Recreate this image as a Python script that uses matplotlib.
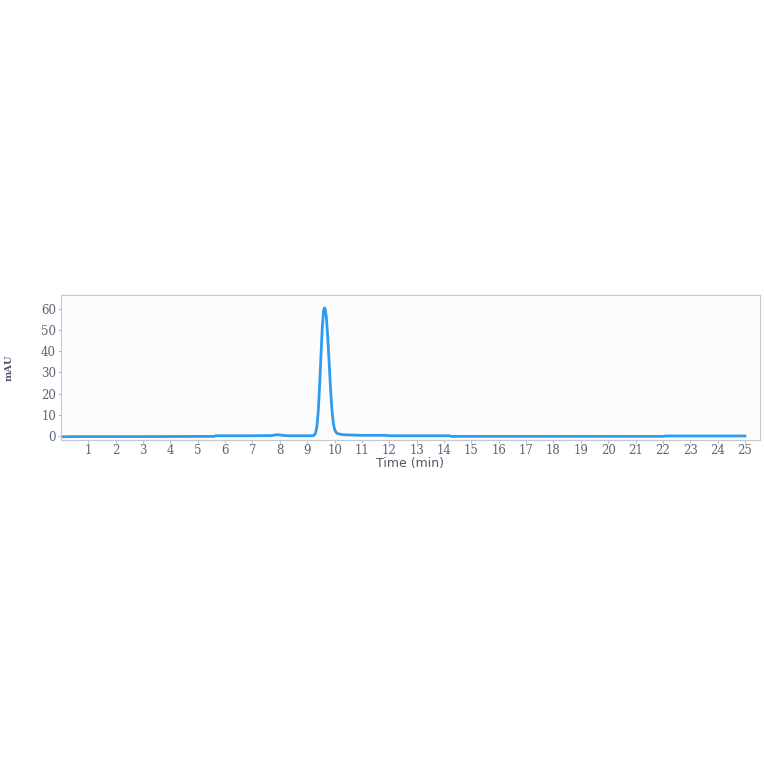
import matplotlib
matplotlib.use("Agg")
import matplotlib.pyplot as plt

time_min = [0.0, 0.5, 1.0, 3.0, 5.6, 5.65, 7.0, 7.7, 7.8, 7.9, 8.0, 8.1, 8.3, 9.0, 9.2,
            9.25, 9.30, 9.35, 9.40, 9.45, 9.50, 9.55, 9.60, 9.63, 9.66, 9.70, 9.75,
            9.80, 9.85, 9.90, 9.95, 10.0, 10.05, 10.1, 10.2, 10.4, 10.8, 11.0, 11.9,
            12.0, 14.2, 14.25, 22.0, 22.1, 25.0]
mau = [-0.4, -0.3, -0.3, -0.3, -0.2, 0.1, 0.1, 0.2, 0.4, 0.6, 0.5, 0.3, 0.1, 0.1, 0.1,
       0.4, 1.2, 4.0, 11.0, 23.0, 37.0, 51.0, 59.5, 60.5, 60.0, 56.0, 47.0,
       35.0, 23.0, 13.0, 6.5, 3.0, 1.8, 1.2, 0.8, 0.5, 0.4, 0.3, 0.3,
       0.1, 0.1, -0.2, -0.2, 0.0, 0.0]
x_ticks = list(range(1, 26))
y_ticks = [0, 10, 20, 30, 40, 50, 60]

fig = plt.figure(figsize=(7.64, 7.64), dpi=100)
ax = fig.add_axes([0.0798, 0.4241, 0.915, 0.1898])
ax.set_facecolor("#fdfcfd")
ax.plot(time_min, mau, color="#2d9bf0", linewidth=2.0)
ax.set_xlim(0, 25.55)
ax.set_ylim(-1.9, 66.6)
ax.set_xticks(x_ticks)
ax.set_yticks(y_ticks)
tick_color = "#5c6375"
ax.tick_params(axis="both", colors="#b8bcc6", labelcolor=tick_color, length=2.5, width=0.8,
               labelsize=8.5, pad=1)
ax.tick_params(axis="x", pad=0.5)
for lab in ax.get_xticklabels() + ax.get_yticklabels():
    lab.set_family("DejaVu Serif")
for s in ax.spines.values():
    s.set_color("#c3c7d0")
    s.set_linewidth(0.8)
ax.set_xlabel("Time (min)", fontsize=9, color="#4f5668", family="DejaVu Sans", labelpad=0)
ax.set_ylabel("mAU", fontsize=7, color="#4f5668", family="DejaVu Serif", fontweight="bold",
              labelpad=20)
fig.savefig("out.png", dpi=100, facecolor="white")
